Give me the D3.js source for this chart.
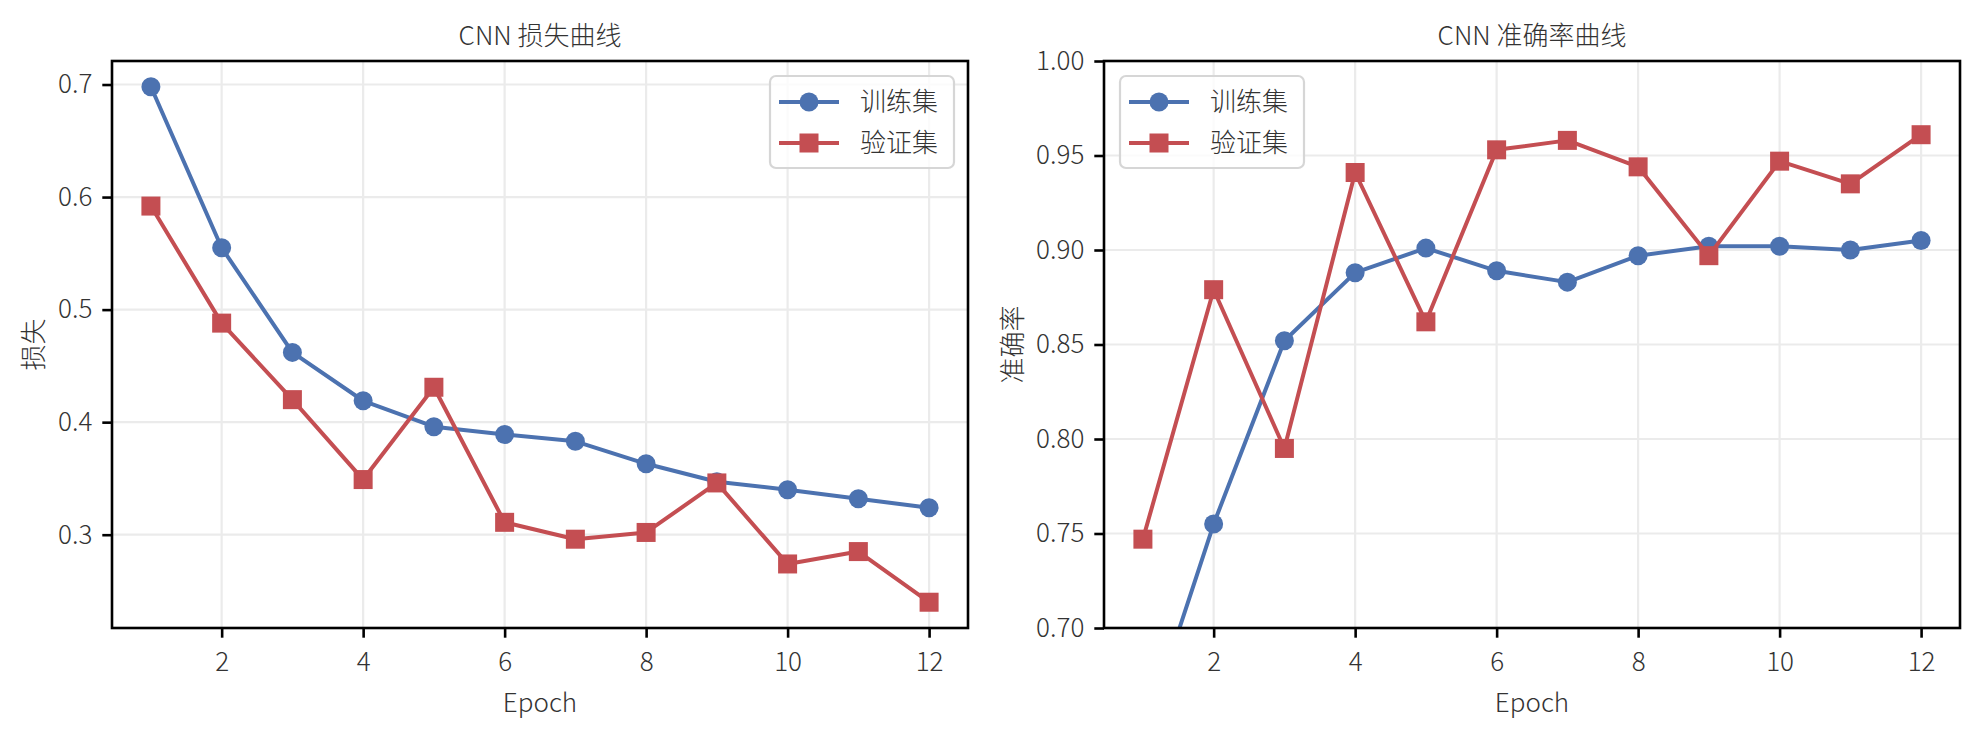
<!DOCTYPE html>
<html>
<head>
<meta charset="utf-8">
<script src="https://cdn.jsdelivr.net/npm/d3@7"></script>
<style>
  body { margin: 0; background: #fff; }
  text { font-family: 'Noto Sans CJK SC Light', 'Noto Sans CJK SC DemiLight', 'Noto Sans CJK SC', 'Noto Sans', sans-serif; font-weight: 300; fill: #333; }
</style>
</head>
<body>
<div id="chart"></div>
<script>
const epochs = [1, 2, 3, 4, 5, 6, 7, 8, 9, 10, 11, 12];
const trainLoss = [0.698, 0.555, 0.462, 0.419, 0.396, 0.389, 0.383, 0.363, 0.347, 0.340, 0.332, 0.324];
const valLoss = [0.592, 0.488, 0.420, 0.349, 0.431, 0.311, 0.296, 0.302, 0.346, 0.274, 0.285, 0.240];
const trainAcc = [0.641, 0.755, 0.852, 0.888, 0.901, 0.889, 0.883, 0.897, 0.902, 0.902, 0.900, 0.905];
const valAcc = [0.747, 0.879, 0.795, 0.941, 0.862, 0.953, 0.958, 0.944, 0.897, 0.947, 0.935, 0.961];
const seriesNames = ['训练集', '验证集'];
const xTicks = [2, 4, 6, 8, 10, 12];
const lossTicks = [0.3, 0.4, 0.5, 0.6, 0.7];
const accTicks = [0.70, 0.75, 0.80, 0.85, 0.90, 0.95, 1.00];

const width = 1980;
const height = 739;
const blue = '#4C72B0';
const red = '#C44E52';
const fontSize = 26;

const svg = d3
  .select('#chart')
  .append('svg')
  .attr('width', width)
  .attr('height', height);

function padded(lo, hi) {
  const pad = (hi - lo) * 0.05;
  return [lo - pad, hi + pad];
}

function drawPanel(config) {
  const { left, right, top, bottom } = config;

  const x = d3.scaleLinear().domain(padded(d3.min(epochs), d3.max(epochs))).range([left, right]);
  const y = d3.scaleLinear().domain(config.yDomain).range([bottom, top]);

  const clipId = 'clip-' + config.id;
  svg.append('clipPath').attr('id', clipId)
    .append('rect')
    .attr('x', left).attr('y', top)
    .attr('width', right - left).attr('height', bottom - top);

  // grid
  const grid = svg.append('g').attr('stroke', '#ebebeb').attr('stroke-width', 2.2);
  grid.selectAll('.gx').data(xTicks).join('line')
    .attr('x1', (d) => x(d)).attr('x2', (d) => x(d))
    .attr('y1', top).attr('y2', bottom);
  grid.selectAll('.gy').data(config.yTicks).join('line')
    .attr('x1', left).attr('x2', right)
    .attr('y1', (d) => y(d)).attr('y2', (d) => y(d));

  // series
  const series = [
    { name: seriesNames[0], values: config.train, color: blue, shape: 'circle' },
    { name: seriesNames[1], values: config.val, color: red, shape: 'square' }
  ];

  const plot = svg.append('g').attr('clip-path', `url(#${clipId})`);
  const line = d3.line().x((d, i) => x(epochs[i])).y((d) => y(d));

  series.forEach((s) => {
    plot.append('path')
      .attr('d', line(s.values))
      .attr('fill', 'none')
      .attr('stroke', s.color)
      .attr('stroke-width', 4)
      .attr('stroke-linejoin', 'round');
    if (s.shape === 'circle') {
      plot.selectAll(null).data(s.values).join('circle')
        .attr('cx', (d, i) => x(epochs[i]))
        .attr('cy', (d) => y(d))
        .attr('r', 9.5)
        .attr('fill', s.color);
    } else {
      plot.selectAll(null).data(s.values).join('rect')
        .attr('x', (d, i) => x(epochs[i]) - 9.5)
        .attr('y', (d) => y(d) - 9.5)
        .attr('width', 19)
        .attr('height', 19)
        .attr('fill', s.color);
    }
  });

  // axes
  const xAxis = svg.append('g')
    .attr('transform', `translate(0, ${bottom})`)
    .call(d3.axisBottom(x).tickValues(xTicks).tickSize(9.7).tickPadding(15).tickFormat(d3.format('d')));
  const yAxis = svg.append('g')
    .attr('transform', `translate(${left}, 0)`)
    .call(d3.axisLeft(y).tickValues(config.yTicks).tickSize(9.7).tickPadding(10).tickFormat(d3.format(config.yFormat)));

  [xAxis, yAxis].forEach((ax) => {
    ax.select('.domain').remove();
    ax.attr('font-family', null);
    ax.selectAll('line').attr('stroke', '#000').attr('stroke-width', 2.6);
    ax.selectAll('text')
      .attr('font-size', fontSize)
      .attr('fill', '#333');
  });

  // frame
  svg.append('rect')
    .attr('x', left).attr('y', top)
    .attr('width', right - left).attr('height', bottom - top)
    .attr('fill', 'none')
    .attr('stroke', '#000')
    .attr('stroke-width', 2.6);

  // title and labels
  svg.append('text')
    .attr('x', (left + right) / 2)
    .attr('y', top - 16)
    .attr('text-anchor', 'middle')
    .attr('font-size', fontSize)
    .text(config.title);

  svg.append('text')
    .attr('x', (left + right) / 2)
    .attr('y', 712)
    .attr('text-anchor', 'middle')
    .attr('font-size', fontSize)
    .text('Epoch');

  svg.append('text')
    .attr('transform', `translate(${config.ylabelX}, ${(top + bottom) / 2}) rotate(-90)`)
    .attr('text-anchor', 'middle')
    .attr('dy', '0.35em')
    .attr('font-size', fontSize)
    .text(config.ylabel);

  // legend
  const lg = svg.append('g').attr('transform', `translate(${config.legendX}, ${top + 15})`);
  lg.append('rect')
    .attr('width', 184).attr('height', 92)
    .attr('rx', 6)
    .attr('fill', 'rgba(255,255,255,0.8)')
    .attr('stroke', '#d6d6d6')
    .attr('stroke-width', 2.2);
  series.forEach((s, i) => {
    const cy = 26 + i * 41;
    lg.append('line')
      .attr('x1', 9).attr('x2', 69)
      .attr('y1', cy).attr('y2', cy)
      .attr('stroke', s.color).attr('stroke-width', 4);
    if (s.shape === 'circle') {
      lg.append('circle').attr('cx', 39).attr('cy', cy).attr('r', 9.5).attr('fill', s.color);
    } else {
      lg.append('rect').attr('x', 29.5).attr('y', cy - 9.5).attr('width', 19).attr('height', 19).attr('fill', s.color);
    }
    lg.append('text')
      .attr('x', 90).attr('y', cy)
      .attr('dy', '0.35em')
      .attr('font-size', fontSize)
      .text(s.name);
  });
}

drawPanel({
  id: 'loss',
  left: 112, right: 968, top: 61, bottom: 628,
  yDomain: padded(d3.min([...trainLoss, ...valLoss]), d3.max([...trainLoss, ...valLoss])),
  yTicks: lossTicks,
  yFormat: '.1f',
  train: trainLoss,
  val: valLoss,
  title: 'CNN 损失曲线',
  ylabel: '损失',
  ylabelX: 34,
  legendX: 770
});

drawPanel({
  id: 'acc',
  left: 1104, right: 1960, top: 61, bottom: 628,
  yDomain: [0.7, 1.0],
  yTicks: accTicks,
  yFormat: '.2f',
  train: trainAcc,
  val: valAcc,
  title: 'CNN 准确率曲线',
  ylabel: '准确率',
  ylabelX: 1013,
  legendX: 1120
});
</script>
</body>
</html>
